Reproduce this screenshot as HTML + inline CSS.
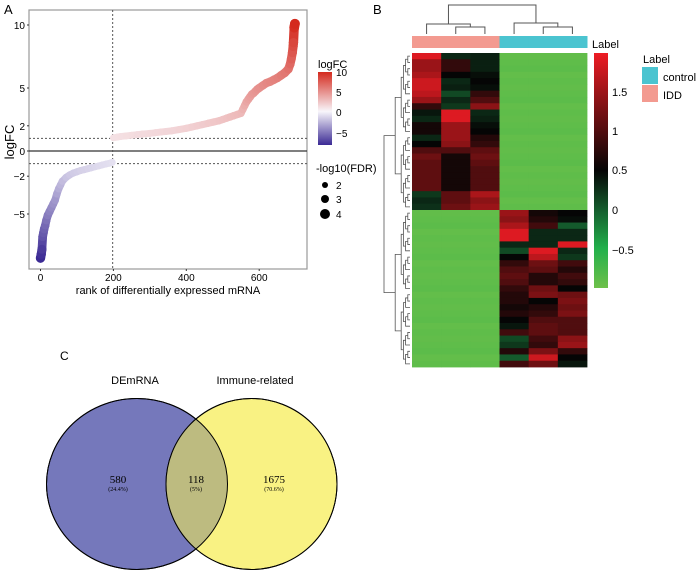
<!DOCTYPE html>
<html><head><meta charset="utf-8">
<style>
html,body{margin:0;padding:0;background:#fff;}
svg{display:block;font-family:"Liberation Sans",Arial,sans-serif;}
</style></head>
<body>
<svg id="fig" width="700" height="574" viewBox="0 0 700 574" xmlns="http://www.w3.org/2000/svg">
<defs>
<linearGradient id="fcgrad" x1="0" y1="1" x2="0" y2="0">
<stop offset="0" stop-color="#3b2a94"/><stop offset="0.46" stop-color="#f8f6fb"/><stop offset="1" stop-color="#d42a1e"/>
</linearGradient>
<linearGradient id="hmgrad" x1="0" y1="1" x2="0" y2="0">
<stop offset="0" stop-color="#6ec04a"/><stop offset="0.17" stop-color="#22b04b"/><stop offset="0.34" stop-color="#145a2c"/><stop offset="0.5" stop-color="#050505"/><stop offset="0.83" stop-color="#9a1418"/><stop offset="1" stop-color="#ee1c24"/>
</linearGradient>
</defs>
<text x="4" y="14" font-size="13">A</text>
<g id="panelA"></g>
<text transform="translate(14,142) rotate(-90)" font-size="13" text-anchor="middle">logFC</text>
<text x="168" y="294" font-size="11" text-anchor="middle">rank of differentially expressed mRNA</text>
<g>
<text x="318" y="68" font-size="11">logFC</text>
<rect x="318" y="72" width="14" height="73" fill="url(#fcgrad)"/>
<text x="336" y="76" font-size="10">10</text>
<text x="336" y="96" font-size="10">5</text>
<text x="336" y="116" font-size="10">0</text>
<text x="336" y="137" font-size="10">−5</text>
</g>
<g>
<text x="316" y="172" font-size="11">-log10(FDR)</text>
<circle cx="325" cy="185" r="3" fill="#000"/>
<circle cx="325" cy="199" r="4" fill="#000"/>
<circle cx="325" cy="214" r="5" fill="#000"/>
<text x="336" y="189" font-size="10">2</text>
<text x="336" y="203" font-size="10">3</text>
<text x="336" y="218" font-size="10">4</text>
</g>
<text x="373" y="14" font-size="13">B</text>
<g id="panelB"></g>
<text x="592" y="48" font-size="11">Label</text>
<rect x="594" y="53" width="14" height="235" fill="url(#hmgrad)"/>
<text x="612" y="96" font-size="11">1.5</text>
<text x="612" y="135" font-size="11">1</text>
<text x="612" y="174" font-size="11">0.5</text>
<text x="612" y="214" font-size="11">0</text>
<text x="612" y="254" font-size="11">−0.5</text>
<g>
<text x="643" y="63" font-size="11">Label</text>
<rect x="642" y="67" width="16" height="17" fill="#4bc4d0"/>
<rect x="642" y="85" width="16" height="17" fill="#f39a90"/>
<text x="663" y="81" font-size="11">control</text>
<text x="663" y="99" font-size="11">IDD</text>
</g>
<text x="60" y="360" font-size="12">C</text>
<g>
<ellipse cx="137" cy="484" rx="90.5" ry="85.5" fill="#7578bb" stroke="#000" stroke-width="1"/>
<ellipse cx="251.5" cy="484" rx="85.5" ry="85.5" fill="#f9f283" stroke="#000" stroke-width="1"/>
<clipPath id="lclip"><ellipse cx="137" cy="484" rx="90.5" ry="85.5"/></clipPath>
<ellipse cx="251.5" cy="484" rx="85.5" ry="85.5" fill="#bdbb80" clip-path="url(#lclip)"/>
<ellipse cx="137" cy="484" rx="90.5" ry="85.5" fill="none" stroke="#000" stroke-width="1"/>
<ellipse cx="251.5" cy="484" rx="85.5" ry="85.5" fill="none" stroke="#000" stroke-width="1"/>
<text x="135" y="384" font-size="11" text-anchor="middle">DEmRNA</text>
<text x="255" y="384" font-size="11" text-anchor="middle">Immune-related</text>
<g font-family="'Liberation Serif',serif" text-anchor="middle">
<text x="118" y="483" font-size="11">580</text>
<text x="118" y="491" font-size="6">(24.4%)</text>
<text x="196" y="483" font-size="11">118</text>
<text x="196" y="491" font-size="6">(5%)</text>
<text x="274" y="483" font-size="11">1675</text>
<text x="274" y="491" font-size="6">(70.6%)</text>
</g>
</g>
</svg>
<script>
const ranks = [0,2,4,6,8,10,13,16,20,25,30,35,40,45,50,55,60,70,80,90,100,110,120,130,140,150,160,170,180,190,197,
 200,210,220,235,250,265,280,300,315,330,345,360,380,400,415,430,445,460,475,490,500,510,520,530,540,550,555,560,565,570,575,580,585,590,595,600,610,620,630,640,650,660,670,680,685,688,691,693,694,696,698];
const logFC = [-8.5,-8.2,-7.8,-6.8,-6.5,-6.2,-5.9,-5.5,-5.1,-4.8,-4.5,-4.2,-3.9,-3.4,-3.0,-2.7,-2.4,-2.1,-1.9,-1.75,-1.65,-1.55,-1.48,-1.4,-1.33,-1.25,-1.18,-1.1,-1.03,-0.97,-0.9,
 1.05,1.1,1.15,1.2,1.25,1.3,1.35,1.4,1.45,1.5,1.55,1.6,1.7,1.8,1.9,2.0,2.1,2.2,2.3,2.4,2.5,2.6,2.7,2.8,2.9,3.0,3.3,3.6,3.9,4.1,4.3,4.5,4.6,4.75,4.9,5.0,5.2,5.4,5.5,5.65,5.8,6.0,6.2,6.5,6.9,7.3,7.8,8.3,8.6,9.8,10.1];
const yTicks = [10,5,2,0,-2,-5];
const xTicks = [0,200,400,600];
const fcCut = [1,-1];
const rankCut = [198];

const NS="http://www.w3.org/2000/svg";
function mk(tag,attrs,parent){const e=document.createElementNS(NS,tag);for(const k in attrs)e.setAttribute(k,attrs[k]);parent.appendChild(e);return e;}
const panelA=document.getElementById('panelA');
const PL=29,PR=307,PT=10,PB=269;
const xS=r=>40.5+r*0.3645;
const yS=v=>151-v*12.6;
const rad=v=>3.2+0.17*Math.abs(v);
function fcColor(v){
  const w=[248,246,251];
  let c,t;
  if(v>=0){c=[212,42,30];t=Math.min(v/10,1);}else{c=[59,42,148];t=Math.min(-v/8.5,1);}
  return 'rgb('+w.map((x,i)=>Math.round(x+(c[i]-x)*t)).join(',')+')';
}
let r0=mk('rect',{x:PL,y:PT,width:PR-PL,height:PB-PT,fill:'#fff',stroke:'#999','stroke-width':1.2},panelA);


let zl=mk('line',{x1:PL,x2:PR,y1:yS(0),y2:yS(0),stroke:'#333','stroke-width':1.2},panelA);


fcCut.forEach(v=>{
  const l=mk('line',{x1:PL,x2:PR,y1:yS(v),y2:yS(v),stroke:'#555','stroke-width':1,'stroke-dasharray':'2,2'},panelA);
  
  
});
rankCut.forEach(r=>{
  const l=mk('line',{x1:xS(r),x2:xS(r),y1:PT,y2:PB,stroke:'#555','stroke-width':1,'stroke-dasharray':'2,2'},panelA);
  
  
});
for(let i=1;i<ranks.length;i++){
  const a=logFC[i-1],b=logFC[i];
  if(a*b<0)continue;
  const s=mk('line',{x1:xS(ranks[i-1]),y1:yS(a),x2:xS(ranks[i]),y2:yS(b),stroke:fcColor((a+b)/2),'stroke-width':(2*Math.min(rad(a),rad(b))).toFixed(2),'stroke-linecap':'round'},panelA);
  
  
}
ranks.forEach((r,i)=>{
  const v=logFC[i];
  const c=mk('circle',{cx:xS(r),cy:yS(v),r:rad(v).toFixed(2),fill:fcColor(v)},panelA);
  
  
});
yTicks.forEach(t=>{
  const tx=mk('text',{x:PL-4,y:yS(t)+4,'font-size':10,'text-anchor':'end'},panelA);tx.textContent=t<0?'−'+(-t):t;
  
  
  mk('line',{x1:PL-2,x2:PL,y1:yS(t),y2:yS(t),stroke:'#333'},panelA);
});
xTicks.forEach(t=>{
  const tx=mk('text',{x:xS(t),y:PB+12,'font-size':10,'text-anchor':'middle'},panelA);tx.textContent=t;
  
  
  mk('line',{x1:xS(t),x2:xS(t),y1:PB,y2:PB+2,stroke:'#333'},panelA);
});

const groups = ['IDD','IDD','IDD','control','control','control'];
const iddHigh = [
 [1.9,0.3,0.35],[1.5,0.8,0.35],[1.5,0.8,0.35],[1.6,0.5,0.45],[1.8,0.3,0.5],[1.8,0.35,0.45],[1.7,0.1,0.8],[1.5,0.3,1.0],[0.8,0.2,1.4],
 [0.4,1.9,0.3],[0.3,1.9,0.35],[0.6,1.5,0.45],[0.6,1.5,0.5],[0.3,1.5,0.7],[0.5,1.4,0.8],[1.0,1.0,1.1],[1.2,0.6,1.2],[1.1,0.6,1.1],
 [1.1,0.6,1.0],[1.1,0.6,1.0],[1.1,0.6,1.0],[1.1,0.6,1.0],[0.2,1.1,1.6],[0.3,1.1,1.4],[0.25,1.2,1.5]];
const ctrlHigh = [
 [1.5,0.6,0.5],[1.4,0.7,0.45],[1.6,0.9,0.0],[1.9,0.3,0.3],[1.9,0.3,0.3],[0.3,0.3,1.9],[0.1,1.9,0.3],[0.5,1.7,0.2],[0.8,1.2,0.9],
 [1.0,1.1,0.7],[1.1,0.7,0.9],[1.0,0.7,0.8],[0.8,1.2,0.5],[0.7,1.3,1.2],[0.7,0.5,1.3],[0.6,0.7,1.2],[0.7,0.8,1.3],[0.5,1.0,1.0],
 [0.4,1.1,1.0],[0.9,1.1,1.0],[0.1,0.9,1.4],[0.2,0.8,1.5],[0.7,1.3,0.8],[0.0,1.8,0.5],[0.9,1.2,0.4]];
const lowValue = [-0.92,-0.9,-0.88,-0.93,-0.9];

const panelB=document.getElementById('panelB');
const HX=412,HY=53,HW=175,HH=314;
const nRows=iddHigh.length+ctrlHigh.length;
const cw=HW/6,rh=HH/nRows;
const stops=[[-1,[110,192,74]],[-0.5,[34,176,75]],[0,[20,90,44]],[0.5,[5,5,5]],[1.5,[154,20,24]],[2,[238,28,36]]];
function hmColor(v){
  if(v<=stops[0][0])return 'rgb('+stops[0][1]+')';
  for(let i=1;i<stops.length;i++){
    if(v<=stops[i][0]){const a=stops[i-1],b=stops[i];const t=(v-a[0])/(b[0]-a[0]);
      return 'rgb('+a[1].map((x,j)=>Math.round(x+(b[1][j]-x)*t)).join(',')+')';}
  }
  return 'rgb('+stops[stops.length-1][1]+')';
}
groups.forEach((g,j)=>{
  const r=mk('rect',{x:HX+j*cw,y:36,width:cw+0.5,height:12,fill:g==='IDD'?'#f39a90':'#4bc4d0'},panelB);
  
  
});
function rowVals(i){
  if(i<iddHigh.length){const lv=lowValue[i%lowValue.length];return iddHigh[i].concat([lv,lv,lv]);}
  const k=i-iddHigh.length;const lv=lowValue[k%lowValue.length];return [lv,lv,lv].concat(ctrlHigh[k]);
}
for(let i=0;i<nRows;i++){
  const vals=rowVals(i);
  vals.forEach((v,j)=>{
    const c=mk('rect',{x:HX+j*cw,y:HY+i*rh,width:cw+0.4,height:rh+0.4,fill:hmColor(v)},panelB);
    
    
  });
}
const colX=j=>HX+cw*(j+0.5);
const dg=mk('g',{stroke:'#555','stroke-width':1,fill:'none'},panelB);


function bracket(x1,x2,yTop,y1b,y2b){mk('path',{d:`M${x1},${y1b}V${yTop}H${x2}V${y2b}`},dg);}
bracket(colX(1),colX(2),27,34,34);
bracket(colX(0),(colX(1)+colX(2))/2,24,34,27);
bracket(colX(4),colX(5),27,34,34);
bracket(colX(3),(colX(4)+colX(5))/2,23,34,27);
bracket((colX(0)+(colX(1)+colX(2))/2)/2,(colX(3)+(colX(4)+colX(5))/2)/2,5,24,23);
const rg=mk('g',{stroke:'#555','stroke-width':0.8,fill:'none'},panelB);


function build(a,b,depth){
  if(a===b)return [HY+rh*(a+0.5),410];
  const m=Math.floor((a+b)/2);
  const L=build(a,m,depth+1),R=build(m+1,b,depth+1);
  const x=Math.min(L[1],R[1])-(depth<2?6:2.2);
  mk('path',{d:`M${L[1]},${L[0]}H${x}V${R[0]}H${R[1]}`},rg);
  return [(L[0]+R[0])/2,x];
}
const topNode=build(0,iddHigh.length-1,1),botNode=build(iddHigh.length,nRows-1,1);
mk('path',{d:`M${topNode[1]},${topNode[0]}H384V${botNode[0]}H${botNode[1]}`},rg);
</script>
</body></html>
